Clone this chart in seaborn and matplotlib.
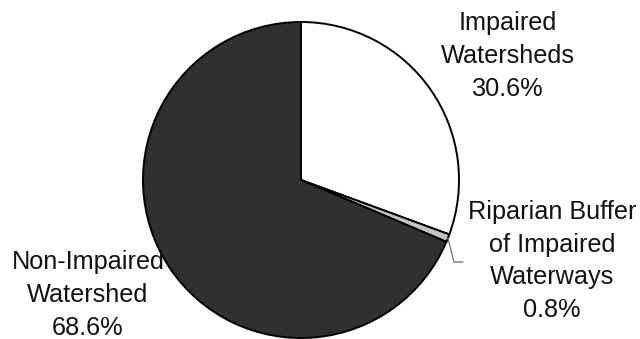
import matplotlib
matplotlib.use("Agg")
import matplotlib.pyplot as plt
import seaborn as sns
import numpy as np

categories = ["Impaired\nWatersheds", "Riparian Buffer\nof Impaired\nWaterways", "Non-Impaired\nWatershed"]
values = [30.6, 0.8, 68.6]
colors = ["#ffffff", "#c4c4c4", "#303030"]

sns.set_theme(style="white")
plt.rcParams['font.family'] = ['Liberation Sans', 'DejaVu Sans']

W, H = 640, 339
fig = plt.figure(figsize=(W / 100, H / 100), dpi=100)
cx, cy, r = 301, 180, 158
ax = fig.add_axes([(cx - r) / W, (H - cy - r) / H, 2 * r / W, 2 * r / H])
ax.pie(values, colors=colors, startangle=90, counterclock=False, radius=1,
       wedgeprops=dict(edgecolor="black", linewidth=1.4))
ax.set_xlim(-1, 1)
ax.set_ylim(-1, 1)
ax.set_aspect("equal")
ax.axis("off")

def fx(px):
    return px / W

def fy(py):
    return 1 - py / H

fs = 18.2
labels = [f"{c}\n{v:.1f}%" for c, v in zip(categories, values)]
positions = [(508, 56), (552, 261), (88, 295)]
for lab, (px, py) in zip(labels, positions):
    fig.text(fx(px), fy(py), lab, ha="center", va="center", fontsize=fs,
             color="#111111", linespacing=1.45)

# leader line for the small slice
mid = np.deg2rad(90 - (values[0] + values[1] / 2) * 3.6)
sx, sy = np.cos(mid), np.sin(mid)
ex, ey = (454 - cx) / r, -(262 - cy) / r
hx = (463 - cx) / r
ax.plot([sx, ex, hx], [sy, ey, ey], color="#7a7a7a", linewidth=1.0, clip_on=False)

fig.savefig("out.png", dpi=100, facecolor="white")
